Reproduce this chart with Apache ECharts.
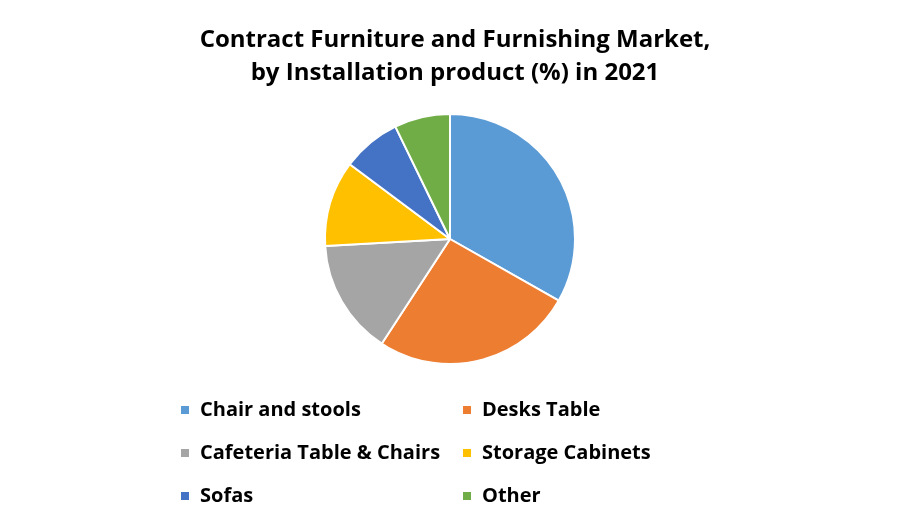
<!DOCTYPE html>
<html>
<head>
<meta charset="utf-8">
<script src="https://cdn.jsdelivr.net/npm/echarts@6/dist/echarts.min.js"></script>
<style>
  html, body { margin: 0; padding: 0; background: #fff; }
  #main { width: 900px; height: 525px; }
</style>
</head>
<body>
<div id="main"></div>
<script>
// market share by product (%)
const categories = ['Chair and stools', 'Desks Table', 'Cafeteria Table & Chairs', 'Storage Cabinets', 'Sofas', 'Other'];
const shares = [33.2, 26.0, 14.9, 11.1, 7.6, 7.2];
const colors = ['#5B9BD5', '#ED7D31', '#A5A5A5', '#FFC000', '#4472C4', '#70AD47'];

const leftColumn = [categories[0], categories[2], categories[4]];
const rightColumn = [categories[1], categories[3], categories[5]];

const chart = echarts.init(document.getElementById('main'));

const legendBase = {
    orient: 'vertical',
    top: 395,
    icon: 'rect',
    itemWidth: 10,
    itemHeight: 10,
    itemGap: 23,
    textStyle: {
        fontFamily: 'Open Sans',
        fontWeight: 'bold',
        fontSize: 20,
        lineHeight: 20,
        color: '#000',
        padding: [0, 0, 0, 5]
    }
};

const option = {
    color: colors,
    animation: false,
    title: {
        text: 'Contract Furniture and Furnishing Market,\nby Installation product (%) in 2021',
        left: 450,
        top: 19,
        textAlign: 'center',
        textStyle: {
            fontFamily: 'Open Sans',
            fontWeight: 'bold',
            fontSize: 24,
            lineHeight: 33,
            color: '#000'
        }
    },
    legend: [
        Object.assign({}, legendBase, { left: 174, data: leftColumn }),
        Object.assign({}, legendBase, { left: 456, data: rightColumn })
    ],
    series: [
        {
            type: 'pie',
            center: [450, 239],
            radius: 125,
            startAngle: 90,
            clockwise: true,
            label: { show: false },
            labelLine: { show: false },
            itemStyle: { borderColor: '#fff', borderWidth: 2 },
            emphasis: { disabled: true },
            data: categories.map((name, i) => ({ name: name, value: shares[i] }))
        }
    ]
};

chart.setOption(option);
</script>
</body>
</html>
